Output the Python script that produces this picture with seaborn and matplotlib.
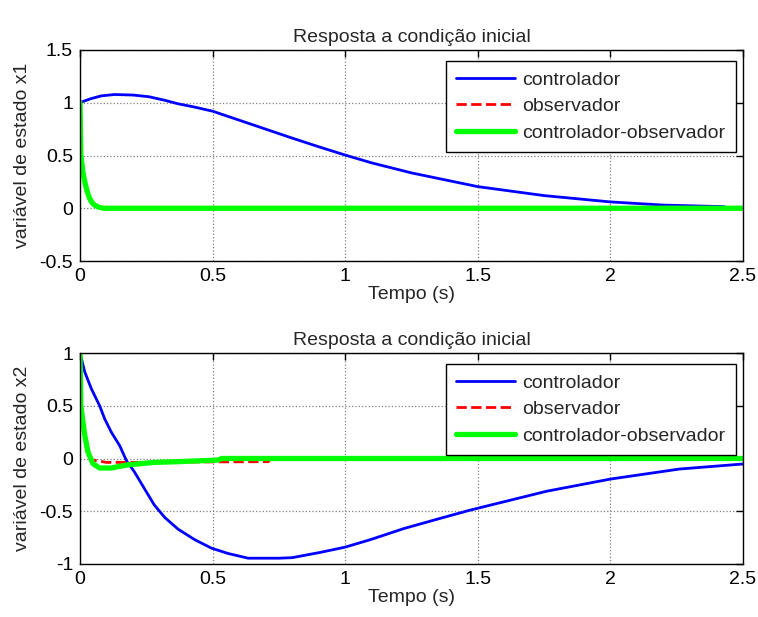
import numpy as np
import pandas as pd
import matplotlib
matplotlib.use("Agg")
import matplotlib.pyplot as plt
import seaborn as sns

# ---- data ----
# state x1
t_ctrl_x1 = [0, 0.02, 0.043, 0.08, 0.13, 0.2, 0.26, 0.32, 0.37, 0.43, 0.5, 0.6, 0.7, 0.8, 0.9, 1.0, 1.1, 1.25, 1.5, 1.75, 2.0, 2.2, 2.43]
y_ctrl_x1 = [1.0, 1.02, 1.04, 1.065, 1.078, 1.073, 1.057, 1.023, 0.99, 0.96, 0.92, 0.835, 0.75, 0.665, 0.583, 0.504, 0.43, 0.335, 0.205, 0.12, 0.06, 0.03, 0.015]
t_obs_x1 = [0, 0.003, 0.01, 0.018, 0.027, 0.036, 0.045, 0.055, 0.07, 0.09, 2.5]
y_obs_x1 = [1.0, 0.51, 0.36, 0.25, 0.16, 0.095, 0.055, 0.03, 0.01, 0.0, 0.0]
t_co_x1 = [0, 0.003, 0.01, 0.018, 0.027, 0.036, 0.045, 0.055, 0.07, 0.09, 2.5]
y_co_x1 = [1.0, 0.51, 0.36, 0.25, 0.16, 0.095, 0.055, 0.03, 0.01, 0.0, 0.0]

# state x2
t_ctrl_x2 = [0, 0.005, 0.018, 0.043, 0.074, 0.093, 0.118, 0.15, 0.175, 0.206, 0.244, 0.28, 0.32, 0.37,
             0.433, 0.496, 0.558, 0.634, 0.75, 0.8, 0.906, 1.0, 1.094, 1.22, 1.346, 1.47, 1.76, 2.0, 2.26, 2.5]
y_ctrl_x2 = [1.0, 0.95, 0.82, 0.66, 0.50, 0.376, 0.25, 0.12, -0.02, -0.13, -0.29, -0.44, -0.56, -0.67,
             -0.77, -0.85, -0.90, -0.945, -0.945, -0.94, -0.89, -0.84, -0.77, -0.665, -0.576, -0.49, -0.31, -0.195, -0.1, -0.052]
t_obs_x2 = [0, 0.003, 0.018, 0.03, 0.04, 0.049, 0.1, 0.25, 0.45, 0.71, 0.72, 2.5]
y_obs_x2 = [1.0, 0.5, 0.2, 0.05, 0.0, -0.015, -0.037, -0.037, -0.033, -0.03, 0.0, 0.0]
t_co_x2 = [0, 0.003, 0.018, 0.03, 0.049, 0.074, 0.118, 0.18, 0.28, 0.37, 0.52, 0.535, 2.5]
y_co_x2 = [1.0, 0.50, 0.22, 0.06, -0.05, -0.09, -0.09, -0.06, -0.037, -0.03, -0.015, 0.0, 0.0]

labels = ["controlador", "observador", "controlador-observador"]
title = "Resposta a condição inicial"
xlabel = "Tempo (s)"
ylabels = ["variável de estado x1", "variável de estado x2"]
xticks = [0, 0.5, 1, 1.5, 2, 2.5]
yticks_top = [-0.5, 0, 0.5, 1, 1.5]
yticks_bot = [-1, -0.5, 0, 0.5, 1]

sns.set_theme(style="white")
plt.rcParams["font.family"] = ["Liberation Sans", "DejaVu Sans"]
plt.rcParams["font.size"] = 14

fig = plt.figure(figsize=(7.58, 6.17), dpi=100)
ax1 = fig.add_axes([80/758, 1-261/617, (743-80)/758, (261-50)/617])
ax2 = fig.add_axes([80/758, 1-564/617, (743-80)/758, (564-353)/617])

def draw(ax, series, yticks, ylabel):
    styles = [dict(color="#0000ff", linewidth=2.0, linestyle="-"),
              dict(color="#ff0000", linewidth=2.0, linestyle="--"),
              dict(color="#00ff00", linewidth=3.8, linestyle="-")]
    for (t, y), lab, st in zip(series, labels, styles):
        sns.lineplot(x=t, y=y, ax=ax, label=lab, estimator=None, sort=False, **st)
    ax.set_xlim(0, 2.5)
    ax.set_ylim(yticks[0], yticks[-1])
    ax.set_xticks(xticks)
    ax.set_xticklabels([f"{v:g}" for v in xticks])
    ax.set_yticks(yticks)
    ax.set_yticklabels([f"{v:g}" for v in yticks])
    ax.grid(True, linestyle=":", color="#808080", linewidth=0.9)
    ax.tick_params(direction="in", top=True, right=True, length=5, width=1,
                   labelsize=14, colors="black", pad=5)
    for s in ax.spines.values():
        s.set_color("black")
        s.set_linewidth(1.0)
    ax.set_title(title, fontsize=14, pad=6)
    ax.set_xlabel(xlabel, fontsize=14, labelpad=1)
    ax.set_ylabel(ylabel, fontsize=14, labelpad=6)
    leg = ax.legend(loc="upper right", fontsize=14, handlelength=3.0,
                    fancybox=False, framealpha=1, edgecolor="black",
                    bbox_to_anchor=(0.99, 0.95), borderaxespad=0.0,
                    labelspacing=0.45, borderpad=0.55, handletextpad=0.4)
    leg.get_frame().set_linewidth(1.0)

draw(ax1, [(t_ctrl_x1, y_ctrl_x1), (t_obs_x1, y_obs_x1), (t_co_x1, y_co_x1)], yticks_top, ylabels[0])
draw(ax2, [(t_ctrl_x2, y_ctrl_x2), (t_obs_x2, y_obs_x2), (t_co_x2, y_co_x2)], yticks_bot, ylabels[1])

fig.savefig("out.png", dpi=100, facecolor="white")
